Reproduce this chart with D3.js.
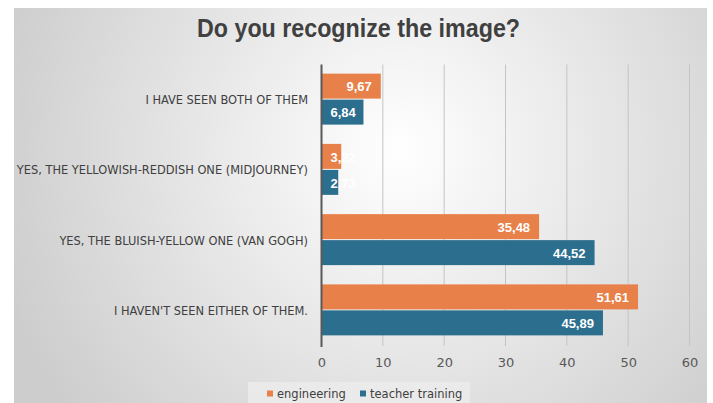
<!DOCTYPE html>
<html>
<head>
<meta charset="utf-8">
<script src="https://cdn.jsdelivr.net/npm/d3@7"></script>
<style>
  html, body { margin: 0; padding: 0; background: #ffffff; }
  svg { display: block; }
  .narrow { font-family: "DejaVu Sans", sans-serif; font-stretch: condensed; }
  .plain { font-family: "DejaVu Sans", sans-serif; }
  .lib { font-family: "Liberation Sans", Arial, sans-serif; }
</style>
</head>
<body>
<svg id="chart" width="713" height="403"></svg>
<script>
// Survey answers, top to bottom as drawn
const categories = [
  "I HAVE SEEN BOTH OF THEM",
  "YES, THE YELLOWISH-REDDISH ONE (MIDJOURNEY)",
  "YES, THE BLUISH-YELLOW ONE (VAN GOGH)",
  "I HAVEN'T SEEN EITHER OF THEM."
];
const seriesNames = ["engineering", "teacher training"];
const engineering = [9.67, 3.22, 35.48, 51.61];
const teacherTraining = [6.84, 2.73, 44.52, 45.89];
const xTicks = [0, 10, 20, 30, 40, 50, 60];
const colors = ["#E8804A", "#2C6E8E"];

const svg = d3.select("#chart");
const W = 713, H = 403;

// Background panel with soft radial gradient
const defs = svg.append("defs");
const grad = defs.append("radialGradient")
  .attr("id", "bg").attr("gradientUnits", "userSpaceOnUse")
  .attr("cx", 400).attr("cy", 150).attr("r", 420);
grad.append("stop").attr("offset", "0%").attr("stop-color", "#ffffff");
grad.append("stop").attr("offset", "100%").attr("stop-color", "#cdcdcd");

svg.append("rect").attr("x", 14).attr("y", 8).attr("width", 693).attr("height", H - 8)
  .attr("fill", "url(#bg)");

// Title, narrowed horizontally
svg.append("g").attr("transform", "translate(358.5,37) scale(0.895,1)")
  .append("text").attr("class", "lib")
  .attr("text-anchor", "middle")
  .attr("font-size", 26).attr("font-weight", "bold")
  .attr("fill", "#404040")
  .text("Do you recognize the image?");

const x = d3.scaleLinear().domain([0, 60]).range([321.5, 689.5]);
const y = d3.scaleBand().domain(categories).range([64.5, 345.5]).paddingInner(0.26).paddingOuter(0.13);
const ySub = d3.scaleBand().domain(seriesNames).range([0, y.bandwidth()]);

// Vertical gridlines
svg.append("g").selectAll("line").data(xTicks.filter(d => d > 0)).join("line")
  .attr("x1", d => x(d)).attr("x2", d => x(d))
  .attr("y1", 64.5).attr("y2", 346)
  .attr("stroke", "#c4c4c4").attr("stroke-width", 1);

// Bars with value labels at the inside end
const rows = categories.map((c, i) => ({ cat: c, vals: [engineering[i], teacherTraining[i]] }));
const g = svg.append("g");
rows.forEach(r => {
  r.vals.forEach((v, j) => {
    const y0 = y(r.cat) + ySub(seriesNames[j]);
    g.append("rect")
      .attr("x", x(0)).attr("y", y0)
      .attr("width", x(v) - x(0)).attr("height", ySub.bandwidth() - 1)
      .attr("fill", colors[j]);
    const label = d3.format(".2f")(v).replace(".", ",");
    const t = g.append("text").attr("class", "lib")
      .attr("y", y0 + ySub.bandwidth() / 2)
      .attr("dy", "0.36em")
      .attr("font-size", 13).attr("font-weight", "bold")
      .attr("fill", "#ffffff")
      .text(label);
    const tw = t.node().getComputedTextLength();
    const endX = Math.max(x(v) - 9, x(0) + 9 + tw);
    t.attr("x", endX).attr("text-anchor", "end");
  });
});

// Category axis line
svg.append("line")
  .attr("x1", x(0)).attr("x2", x(0)).attr("y1", 64.5).attr("y2", 347)
  .attr("stroke", "#595959").attr("stroke-width", 2);

// Category labels
svg.append("g").selectAll("text").data(categories).join("text")
  .attr("class", "narrow")
  .attr("x", 308).attr("y", d => y(d) + y.bandwidth() / 2)
  .attr("dy", "0.36em")
  .attr("text-anchor", "end")
  .attr("font-size", 12.7).attr("fill", "#404040")
  .text(d => d);

// Value axis tick labels
const xAxis = svg.append("g").attr("transform", `translate(0,${358})`)
  .call(d3.axisBottom(x).tickValues(xTicks).tickSize(0).tickPadding(0));
xAxis.select(".domain").remove();
xAxis.selectAll("text").attr("class", "plain")
  .attr("font-size", 13).attr("fill", "#595959").attr("dy", "0.71em");

// Legend
const lg = svg.append("g");
lg.append("rect").attr("x", 248).attr("y", 382).attr("width", 222).attr("height", 21)
  .attr("fill", "#ececec").attr("opacity", 0.8);
const legendX = [267, 360];
seriesNames.forEach((s, i) => {
  lg.append("rect").attr("x", legendX[i]).attr("y", 390.5).attr("width", 6).attr("height", 6)
    .attr("fill", colors[i]);
  lg.append("text").attr("class", "plain")
    .attr("x", legendX[i] + 10).attr("y", 394).attr("dy", "0.36em")
    .attr("font-size", 11.5).attr("fill", "#404040")
    .text(s);
});
</script>
</body>
</html>
